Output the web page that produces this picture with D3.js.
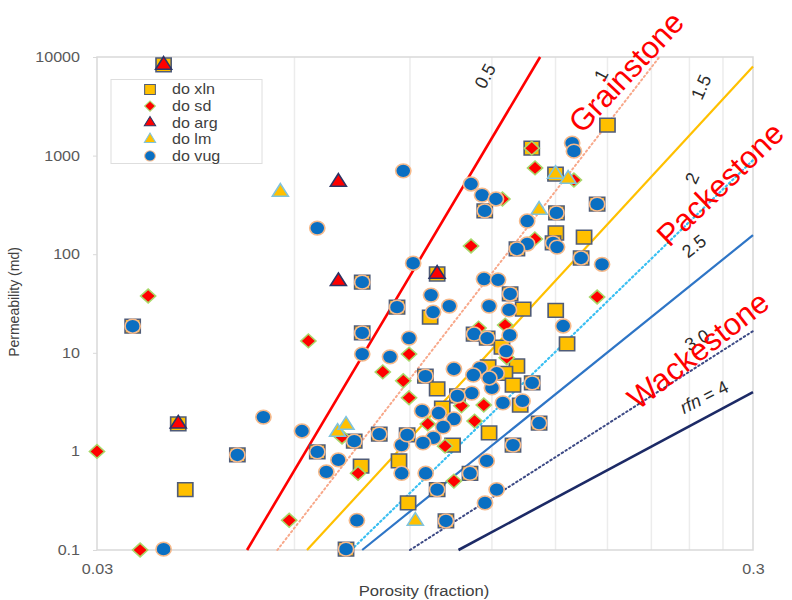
<!DOCTYPE html>
<meta charset="utf-8">
<style>
body { margin: 0; background: #fff; }
svg { display: block; font-family: "Liberation Sans", Arial, sans-serif; }
</style>
<svg class="chart" width="792" height="600"></svg>
<script src="https://d3js.org/d3.v7.min.js"></script>
<script>
// ---- data (porosity fraction, permeability md) ----
var permTicks = [0.1, 1, 10, 100, 1000, 10000];
var poroTicks = [0.03, 0.3];
var poroGrid = [0.06, 0.09, 0.12, 0.15, 0.18, 0.21, 0.24, 0.27];

var seriesNames = ["do xln", "do sd", "do arg", "do lm", "do vug"];

var xlnData = [[0.0379,8300],[0.034,18.6],[0.0399,1.9],[0.0409,0.41],[0.0491,0.92],[0.0761,52],
  [0.099,63],[0.0761,15.9],[0.086,29],[0.0966,23],[0.117,275],[0.1127,15.5],[0.118,14.1],
  [0.138,1190],[0.150,650],[0.1505,262],[0.1736,322],[0.18,2040],[0.1502,164],[0.1658,149],
  [0.1487,130],[0.131,113],[0.1641,91.5],[0.1279,39.5],[0.1339,27.8],[0.1501,27],[0.1562,12.3],
  [0.1243,11.4],[0.1184,7.2],[0.131,7.35],[0.1256,6.2],[0.1292,4.7],[0.1382,4.95],[0.1325,2.95],
  [0.1416,1.94],[0.1188,1.54],[0.1292,1.16],[0.1111,0.6],[0.099,0.41],[0.1021,0.197],[0.0719,0.102],
  [0.065,0.99],[0.074,1.27],[0.0808,1.5],[0.0758,0.71],[0.0866,0.8],[0.0894,0.3],[0.0891,1.47],
  [0.095,5.8],[0.099,4.3],[0.1063,3.65],[0.1008,2.75],[0.1045,1.16]];

var sdData = [[0.03,1.0],[0.0359,37.7],[0.0349,0.1],[0.0589,0.2],[0.063,13.2],[0.0709,1.4],
  [0.075,0.6],[0.0818,6.4],[0.0897,9.7],[0.0879,5.2],[0.0897,3.5],[0.0958,1.9],[0.1018,1.13],
  [0.105,0.5],[0.1078,2.9],[0.1115,121],[0.1145,17.8],[0.1257,19.1],[0.1264,8.9],[0.1166,2.95],
  [0.1129,2.03],[0.1395,143],[0.138,1190],[0.1396,750],[0.16,566],[0.1736,36.8],[0.1245,363]];

var argData = [[0.0379,8300],[0.0399,1.9],[0.07,540],[0.07,53],[0.099,63]];

var lmData = [[0.0571,427],[0.150,650],[0.1568,580],[0.1416,281],[0.0698,1.57],[0.0719,1.85],[0.0917,0.197]];

var vugData = [[0.0379,0.102],[0.034,18.6],[0.0491,0.92],[0.0538,2.23],[0.0616,1.61],[0.065,184],
  [0.0879,700],[0.091,81],[0.0761,52],[0.0761,15.9],[0.086,29],[0.0761,9.7],[0.0839,9.1],
  [0.0897,14.1],[0.0969,38.5],[0.1033,29.8],[0.0976,25.9],[0.1115,515],[0.1159,398],[0.1217,363],
  [0.117,275],[0.1167,56],[0.1226,55],[0.1188,29.8],[0.1127,15.5],[0.118,14.1],[0.1274,27.2],
  [0.1279,39.5],[0.1358,217],[0.1358,127],[0.131,113],[0.1505,262],[0.1487,130],[0.1508,118],
  [0.159,1340],[0.16,1110],[0.1736,322],[0.1641,91.5],[0.1766,79],[0.1541,18.7],[0.1261,10.4],
  [0.1277,15.1],[0.115,7.0],[0.1124,5.95],[0.122,6.2],[0.1382,4.95],[0.12,4.4],[0.1118,3.9],
  [0.1247,3.1],[0.1336,3.25],[0.1063,3.65],[0.105,6.85],[0.1189,5.55],[0.095,5.8],[0.0939,2.57],
  [0.0995,2.45],[0.105,2.13],[0.1011,1.77],[0.0977,1.37],[0.0942,1.22],[0.0874,1.16],[0.0891,1.47],
  [0.0808,1.5],[0.074,1.27],[0.065,0.99],[0.07,0.82],[0.0671,0.62],[0.0874,0.6],[0.0951,0.6],
  [0.1111,0.6],[0.1178,0.8],[0.122,0.41],[0.1171,0.3],[0.099,0.41],[0.1021,0.197],[0.0747,0.2],
  [0.0719,0.102],[0.1292,1.16],[0.1416,1.94]];

// rock-fabric number lines, end points
var rfnNames = ["0.5", "1", "1.5", "2", "2.5", "3.0", "4"];
var rfnLines = [
  [[0.0508,0.1],[0.1421,10000]],
  [[0.0565,0.1],[0.216,10000]],
  [[0.0627,0.1],[0.3,8000]],
  [[0.0732,0.1],[0.3,900]],
  [[0.0761,0.1],[0.3,156]],
  [[0.09,0.1],[0.3,16.6]],
  [[0.1067,0.1],[0.3,4.0]]
];
var faciesNames = ["Grainstone", "Packestone", "Wackestone"];

// ---- chart ----
var chart = d3.select(".chart");
var plotLeft = 97, plotRight = 753, plotTop = 57, plotBottom = 550;
var stretch = 1.15;   // the picture is a little wider than tall

var x = d3.scaleLog().domain([0.03, 0.3]).range([plotLeft, plotRight]);
var y = d3.scaleLog().domain([0.1, 10000]).range([plotBottom, plotTop]);

// vertical grid lines
chart.append("g").selectAll("line")
    .data(poroGrid)
  .enter().append("line")
    .attr("x1", function(d) { return x(d); })
    .attr("x2", function(d) { return x(d); })
    .attr("y1", plotTop).attr("y2", plotBottom)
    .style("stroke", "#ececec")
    .style("stroke-width", 1.5);

chart.append("rect")
    .attr("x", plotLeft).attr("y", plotTop)
    .attr("width", plotRight - plotLeft).attr("height", plotBottom - plotTop)
    .style("fill", "none")
    .style("stroke", "#d9d9d9")
    .style("stroke-width", 1.5);

// axes
var yAxis = chart.append("g")
    .attr("transform", "translate(" + plotLeft + ",0)")
    .call(d3.axisLeft(y).tickValues(permTicks).tickFormat(d3.format("~g")).tickSize(4).tickPadding(13));
var xAxis = chart.append("g")
    .attr("transform", "translate(0," + plotBottom + ")")
    .call(d3.axisBottom(x).tickValues(poroTicks).tickFormat(d3.format("~g")).tickSize(0).tickPadding(14));

[yAxis, xAxis].forEach(function(ax) {
  ax.select(".domain").remove();
  ax.selectAll("line").style("stroke", "#d9d9d9");
  ax.selectAll("text")
    .style("font-family", "Liberation Sans, Arial, sans-serif")
    .style("font-size", "14px")
    .style("fill", "#595959")
    .each(function() {
      // widen glyphs like the picture
      var t = d3.select(this), tx = +t.attr("x") || 0;
      t.attr("x", tx / stretch).attr("transform", "scale(" + stretch + ",1)");
    });
});

chart.append("text")
    .attr("transform", "translate(19,302) rotate(-90)")
    .attr("text-anchor", "middle")
    .style("font-size", "14px")
    .style("fill", "#404040")
    .text("Permeability (md)");

chart.append("text")
    .attr("transform", "translate(424,596) scale(" + stretch + ",1)")
    .attr("text-anchor", "middle")
    .style("font-size", "14.5px")
    .style("fill", "#404040")
    .text("Porosity (fraction)");

// rfn lines
var lineStyles = [
  {color: "#ff0000", width: 2.6, dash: null},
  {color: "#f8a88a", width: 2, dash: "1.5,3"},
  {color: "#ffc000", width: 2.2, dash: null},
  {color: "#39bff2", width: 2.2, dash: "1.5,3"},
  {color: "#2e75c6", width: 2.2, dash: null},
  {color: "#3d4a85", width: 2, dash: "1.5,3"},
  {color: "#1c2a66", width: 2.6, dash: null}
];

var line = d3.line()
    .x(function(d) { return x(d[0]); })
    .y(function(d) { return y(d[1]); });

chart.append("g").selectAll("path")
    .data(rfnLines)
  .enter().append("path")
    .attr("d", line)
    .style("fill", "none")
    .style("stroke", function(d, i) { return lineStyles[i].color; })
    .style("stroke-width", function(d, i) { return lineStyles[i].width; })
    .style("stroke-dasharray", function(d, i) { return lineStyles[i].dash; })
    .style("stroke-linecap", function(d, i) { return lineStyles[i].dash ? "round" : "butt"; });

// rfn value labels
var rfnLabelPos = [[485,76,-62],[601,75,-62],[701,87,-66],[692,178,-66],[694,246,-38],[697,340,-30],[704,397,-27]];
chart.append("g").selectAll("text")
    .data(rfnNames)
  .enter().append("text")
    .attr("transform", function(d, i) {
      var p = rfnLabelPos[i];
      return "translate(" + p[0] + "," + p[1] + ") rotate(" + p[2] + ")";
    })
    .attr("text-anchor", "middle")
    .attr("dy", "0.35em")
    .style("font-size", "18px")
    .style("fill", "#2b2b2b")
    .each(function(d) {
      var t = d3.select(this);
      if (d === "4") {
        t.append("tspan").style("font-style", "italic").text("rfn");
        t.append("tspan").text(" = 4");
      } else {
        t.text(d);
      }
    });

// markers
var markerStyles = {
  "do xln": {type: d3.symbolSquare, size: 190, rot: 0, fill: "#ffc000", stroke: "#505c78"},
  "do sd":  {type: d3.symbolSquare, size: 95, rot: 45, fill: "#ff0000", stroke: "#a8d86a"},
  "do arg": {type: d3.symbolTriangle, size: 92, rot: 0, fill: "#ff0000", stroke: "#2c3566"},
  "do lm":  {type: d3.symbolTriangle, size: 92, rot: 0, fill: "#ffc000", stroke: "#7fc3de"},
  "do vug": {type: d3.symbolCircle, size: 150, rot: 0, fill: "#0a6fc2", stroke: "#f6b98a"}
};
var seriesData = [xlnData, sdData, argData, lmData, vugData];

seriesNames.forEach(function(name, si) {
  var st = markerStyles[name];
  chart.append("g").selectAll("path")
      .data(seriesData[si])
    .enter().append("path")
      .attr("d", d3.symbol().type(st.type).size(st.size))
      .attr("transform", function(d) {
        return "translate(" + x(d[0]) + "," + y(d[1]) + ") scale(" + (stretch - 0.05) + ",1) rotate(" + st.rot + ")";
      })
      .style("fill", st.fill)
      .style("stroke", st.stroke)
      .style("stroke-width", 1.5);
});

// legend
var legend = chart.append("g");
legend.append("rect")
    .attr("x", 111).attr("y", 79.5)
    .attr("width", 151).attr("height", 84)
    .style("fill", "#fff")
    .style("stroke", "#dedede");

var rows = legend.selectAll("g.row")
    .data(seriesNames)
  .enter().append("g")
    .attr("class", "row")
    .attr("transform", function(d, i) { return "translate(150," + (89.5 + i * 16.6) + ")"; });

rows.append("path")
    .attr("d", function(d) { return d3.symbol().type(markerStyles[d].type).size(markerStyles[d].size * 0.55)(); })
    .attr("transform", function(d) { return "scale(1.05,1) rotate(" + markerStyles[d].rot + ")"; })
    .style("fill", function(d) { return markerStyles[d].fill; })
    .style("stroke", function(d) { return markerStyles[d].stroke; })
    .style("stroke-width", 1);

rows.append("text")
    .attr("transform", "translate(22,0) scale(" + stretch + ",1)")
    .attr("dy", "0.35em")
    .style("font-size", "14px")
    .style("fill", "#404040")
    .text(function(d) { return d; });

// facies names
var faciesPos = [[626,72,-47],[720,184,-44],[698,350,-38]];
chart.append("g").selectAll("text")
    .data(faciesNames)
  .enter().append("text")
    .attr("transform", function(d, i) {
      var p = faciesPos[i];
      return "translate(" + p[0] + "," + p[1] + ") rotate(" + p[2] + ")";
    })
    .attr("text-anchor", "middle")
    .attr("dy", "0.35em")
    .style("font-size", "31px")
    .style("fill", "#ff0000")
    .text(function(d) { return d; });
</script>
